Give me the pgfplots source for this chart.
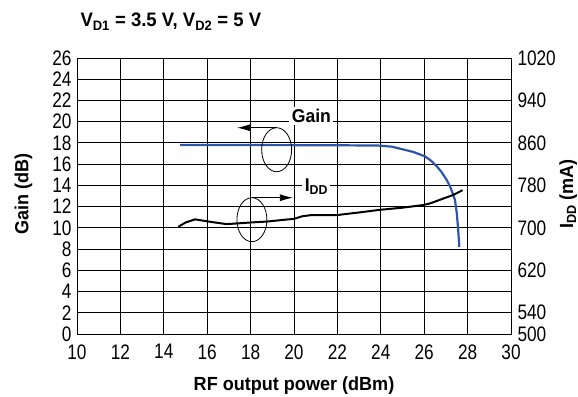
\documentclass[border=0pt]{standalone}
\usepackage{fontspec}
\setmainfont{Liberation Sans}[FakeStretch=0.82]
\newfontfamily\bfc{Liberation Sans Bold}[FakeStretch=0.95]
\usepackage{pgfplots}
\pgfplotsset{compat=1.18}
\usetikzlibrary{arrows.meta}
\definecolor{gainblue}{RGB}{45,85,170}
\newcommand{\tf}{\fontsize{21bp}{24bp}\selectfont}
\newcommand{\lf}{\fontsize{19bp}{23bp}\selectfont\bfc}
\begin{document}
\begin{tikzpicture}
\begin{axis}[
  scale only axis, width=434bp, height=276bp,
  xmin=10, xmax=30, ymin=0, ymax=26,
  xtick={10,12,...,30}, ytick={0,2,...,26},
  grid=major, major grid style={black, line width=0.9bp},
  axis line style={black, line width=0.9bp},
  major tick length=0pt,
  tick label style={font=\tf},
  xticklabel style={yshift=-7bp},
  yticklabel style={xshift=-2bp},
  /pgf/number format/assume math mode=true,
  /pgf/number format/1000 sep={},
  clip=false,
]
\addplot[gainblue, line width=2.2bp, line join=round] coordinates {
(14.75,17.8) (18,17.8) (22,17.78) (23.9,17.75) (24.5,17.65) (24.9,17.45) (25.5,17.15) (26.04,16.73) (26.3,16.35) (26.58,15.8) (26.8,15.25) (27.04,14.5) (27.2,13.85) (27.31,13.27) (27.42,12.6) (27.5,11.4) (27.56,10) (27.62,8.2)
};
\draw[line width=0.8bp] (axis cs:19.2,17.36) ellipse [x radius=15bp, y radius=22bp];
\draw[line width=0.8bp, -{Latex[length=13bp,width=7bp]}] (axis cs:19.2,19.43) -- (axis cs:17.38,19.43);
\draw[line width=0.8bp] (axis cs:18.06,10.77) ellipse [x radius=15bp, y radius=22bp];
\draw[line width=0.8bp, -{Latex[length=13bp,width=7bp]}] (axis cs:18.06,12.84) -- (axis cs:19.95,12.84);
\node[fill=white, inner sep=2.5bp, anchor=base, font=\fontsize{18.5bp}{22bp}\selectfont\bfc] at (axis cs:20.8,19.9) {Gain};
\node[fill=white, inner sep=2.5bp, anchor=base, font=\fontsize{18.5bp}{22bp}\selectfont\bfc] at (axis cs:21.03,13.43) {I\textsubscript{DD}};
\end{axis}
\begin{axis}[
  scale only axis, width=434bp, height=276bp,
  xmin=10, xmax=30, ymin=500, ymax=1020,
  axis x line=none, axis y line*=right,
  axis line style={black, line width=0.9bp},
  ytick={500,540,620,700,780,860,940,1020},
  major tick length=0pt,
  tick label style={font=\tf},
  yticklabel style={xshift=3bp},
  /pgf/number format/assume math mode=true,
  /pgf/number format/1000 sep={},
]
\addplot[black, line width=2bp, line join=round] coordinates {
(14.67,702) (15.0,710) (15.44,716) (16.2,711) (16.9,707) (17.97,710) (18.8,712) (19.5,715) (20.0,717) (20.4,722) (20.8,724) (21.96,724) (23.0,729) (23.96,734) (25.0,738) (25.96,743) (26.27,746) (26.8,754) (27.34,762) (27.77,771)
};
\end{axis}
\node[anchor=base west, font=\fontsize{19.5bp}{23bp}\selectfont\bfc] at (0bp,307bp) {V\textsubscript{D1} = 3.5 V, V\textsubscript{D2} = 5 V};
\node[anchor=base, font=\lf] at (217bp,-56bp) {RF output power (dBm)};
\node[rotate=90, anchor=base, font=\lf] at (-48.5bp,140bp) {Gain (dB)};
\node[rotate=90, anchor=base, font=\lf] at (496bp,140bp) {I\textsubscript{DD} (mA)};
\pgfresetboundingbox
\path[use as bounding box] (-77bp,-63bp) rectangle (501bp,334bp);
\end{tikzpicture}
\end{document}
